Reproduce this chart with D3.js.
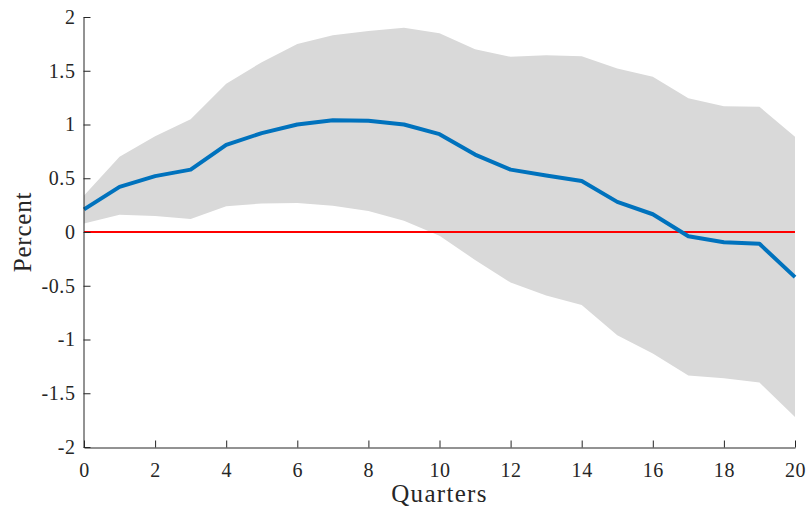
<!DOCTYPE html>
<html>
<head>
<meta charset="utf-8">
<script src="https://cdn.jsdelivr.net/npm/d3@7"></script>
<style>
  body { margin: 0; background: #fff; }
  text { font-family: "Liberation Serif", "DejaVu Serif", serif; fill: #262626; }
</style>
</head>
<body>
<div id="chart"></div>
<script>
// quarters after the shock
var quarters = d3.range(0, 21);
// point estimate of the response (percent)
var response = [0.21, 0.42, 0.52, 0.58, 0.81, 0.92, 1.00, 1.04, 1.035, 1.00, 0.91,
                0.72, 0.58, 0.525, 0.475, 0.28, 0.165, -0.04, -0.095, -0.11, -0.42];
// confidence band
var upper = [0.34, 0.70, 0.89, 1.05, 1.38, 1.58, 1.75, 1.83, 1.87, 1.90, 1.85,
             1.70, 1.63, 1.645, 1.635, 1.52, 1.445, 1.245, 1.17, 1.165, 0.885];
var lower = [0.08, 0.16, 0.15, 0.12, 0.24, 0.265, 0.27, 0.245, 0.195, 0.105, -0.035,
             -0.26, -0.47, -0.59, -0.68, -0.96, -1.13, -1.335, -1.36, -1.40, -1.72];
var xTicks = [0, 2, 4, 6, 8, 10, 12, 14, 16, 18, 20];
var yTicks = [-2, -1.5, -1, -0.5, 0, 0.5, 1, 1.5, 2];

var width = 807, height = 508;
var margin = {left: 84, right: 12, top: 17, bottom: 61};

var svg = d3.select('#chart').append('svg')
  .attr('width', width)
  .attr('height', height);

var x = d3.scaleLinear().domain([0, 20]).range([margin.left, width - margin.right]);
var y = d3.scaleLinear().domain([-2, 2]).range([height - margin.bottom, margin.top]);

var rows = quarters.map(function(q, i) {
  return {q: q, r: response[i], hi: upper[i], lo: lower[i]};
});

// band
svg.append('path')
  .datum(rows)
  .attr('fill', '#d9d9d9')
  .attr('d', d3.area()
    .x(function(d) { return x(d.q); })
    .y0(function(d) { return y(d.lo); })
    .y1(function(d) { return y(d.hi); }));

// zero line
svg.append('line')
  .attr('x1', x(0)).attr('x2', x(20))
  .attr('y1', y(0)).attr('y2', y(0))
  .attr('stroke', '#ff0000')
  .attr('stroke-width', 2);

// response
svg.append('path')
  .datum(rows)
  .attr('fill', 'none')
  .attr('stroke', '#0072bd')
  .attr('stroke-width', 4)
  .attr('stroke-linejoin', 'round')
  .attr('d', d3.line()
    .x(function(d) { return x(d.q); })
    .y(function(d) { return y(d.r); }));

// axes
var xAxis = svg.append('g')
  .attr('transform', 'translate(0,' + (height - margin.bottom + 0.5) + ')')
  .call(d3.axisBottom(x).tickValues(xTicks).tickSizeInner(-7).tickSizeOuter(0).tickPadding(15));
var yAxis = svg.append('g')
  .attr('transform', 'translate(' + (margin.left - 0.5) + ',0)')
  .call(d3.axisLeft(y).tickValues(yTicks).tickSizeInner(-7).tickSizeOuter(0).tickPadding(8)
    .tickFormat(function(d) { return String(d); }));

[xAxis, yAxis].forEach(function(g) {
  g.select('.domain').attr('stroke', '#262626');
  g.selectAll('.tick line').attr('stroke', '#262626');
  g.selectAll('.tick text')
    .style('font-family', '"Liberation Serif", "DejaVu Serif", serif')
    .style('font-size', '20px')
    .style('letter-spacing', '0.6px')
    .attr('fill', '#262626');
});

svg.append('text')
  .attr('x', x(10))
  .attr('y', 502)
  .attr('text-anchor', 'middle')
  .style('font-size', '25px')
  .style('letter-spacing', '1.3px')
  .text('Quarters');

svg.append('text')
  .attr('transform', 'translate(31,' + y(0) + ') rotate(-90)')
  .attr('text-anchor', 'middle')
  .style('font-size', '25px')
  .style('letter-spacing', '0.8px')
  .text('Percent');
</script>
</body>
</html>
